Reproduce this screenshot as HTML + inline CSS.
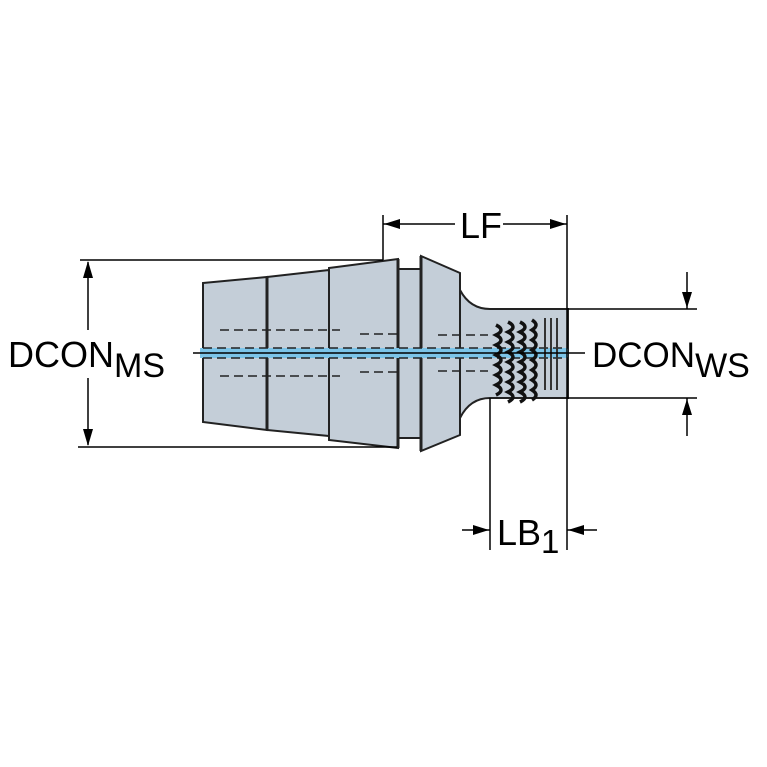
<!DOCTYPE html>
<html><head><style>body{margin:0;background:#fff}svg{display:block}</style></head><body>
<svg width="767" height="767" viewBox="0 0 767 767" xmlns="http://www.w3.org/2000/svg" font-family="Liberation Sans, sans-serif">
<g fill="#c4ced8" stroke="#222" stroke-width="2">
<polygon points="203,283 267,277 267,430 203,422"/>
<polygon points="267,277 329,270 329,436 267,430"/>
<polygon points="329,268 398,259 398,448 329,440"/>
<rect x="398" y="269" width="23" height="169"/>
<polygon points="421,256 460,273 460,435 421,451"/>
<path d="M460,290 Q470,309 490,309 L568,309 L568,398 L490,398 Q470,398 460,418 Z"/>
</g>
<g stroke="#222" stroke-width="3">
<line x1="267" y1="277" x2="267" y2="430"/>
<line x1="398" y1="259" x2="398" y2="448"/>
<line x1="421" y1="256" x2="421" y2="451"/>
</g>
<rect x="200" y="348" width="368" height="10" fill="#7cc4e8"/>
<g stroke="#222" stroke-width="1.5" fill="none" stroke-dasharray="9,5">
<line x1="203" y1="348" x2="568" y2="348"/>
<line x1="203" y1="358" x2="568" y2="358"/>
<line x1="220" y1="330" x2="340" y2="330"/>
<line x1="220" y1="376" x2="340" y2="376"/>
<line x1="360" y1="334" x2="400" y2="334"/>
<line x1="360" y1="372" x2="400" y2="372"/>
<line x1="438" y1="335" x2="488" y2="335"/>
<line x1="438" y1="371" x2="488" y2="371"/>
</g>
<g stroke="#111" stroke-width="3.5" fill="none">
<path d="M496,325 q10,5 0,10 q10,5 0,10 q10,5 0,10 q10,5 0,10 q10,5 0,10 q10,5 0,10 q10,5 0,10"/>
<path d="M508,322 q10,5 0,10 q10,5 0,10 q10,5 0,10 q10,5 0,10 q10,5 0,10 q10,5 0,10 q10,5 0,10 q10,5 0,10"/>
<path d="M520,322 q10,5 0,10 q10,5 0,10 q10,5 0,10 q10,5 0,10 q10,5 0,10 q10,5 0,10 q10,5 0,10 q10,5 0,10"/>
<path d="M532,320 q8,5 0,10 q8,5 0,10 q8,5 0,10 q8,5 0,10 q8,5 0,10 q8,5 0,10 q8,5 0,10 q8,5 0,10"/>
</g>
<g stroke="#333" stroke-width="2">
<line x1="545" y1="318" x2="545" y2="390"/><line x1="551" y1="318" x2="551" y2="390"/><line x1="557" y1="318" x2="557" y2="390"/>
</g>
<g stroke="#000" stroke-width="1.5">
<line x1="193" y1="353" x2="585" y2="353"/>
<line x1="80" y1="260" x2="383" y2="260"/>
<line x1="78" y1="447" x2="397" y2="447"/>
<line x1="383" y1="215" x2="383" y2="260"/>
<line x1="567" y1="215" x2="567" y2="550"/>
<line x1="490" y1="398" x2="490" y2="550"/>
<line x1="567" y1="309" x2="697" y2="309"/>
<line x1="567" y1="398" x2="697" y2="398"/>
<line x1="88" y1="262" x2="88" y2="330"/>
<line x1="88" y1="378" x2="88" y2="445"/>
<line x1="383" y1="224" x2="455" y2="224"/>
<line x1="503" y1="224" x2="567" y2="224"/>
<line x1="462" y1="530" x2="490" y2="530"/>
<line x1="567" y1="530" x2="597" y2="530"/>
<line x1="687" y1="272" x2="687" y2="309"/>
<line x1="687" y1="398" x2="687" y2="436"/>
</g>
<g fill="#000">
<polygon points="88,261 83,278 93,278"/>
<polygon points="88,446 83,429 93,429"/>
<polygon points="384,224 400,219 400,229"/>
<polygon points="566,224 550,219 550,229"/>
<polygon points="489,530 473,525 473,535"/>
<polygon points="568,530 584,525 584,535"/>
<polygon points="687,308 682,292 692,292"/>
<polygon points="687,399 682,415 692,415"/>
</g>
<text x="460" y="238" font-size="36">LF</text>
<text x="497" y="545" font-size="36">LB<tspan font-size="33" dy="8">1</tspan></text>
<text x="8" y="367" font-size="36">DCON<tspan font-size="34" dy="10">MS</tspan></text>
<text x="592" y="367" font-size="35">DCON<tspan font-size="34" dy="10">WS</tspan></text>
</svg>
</body></html>
